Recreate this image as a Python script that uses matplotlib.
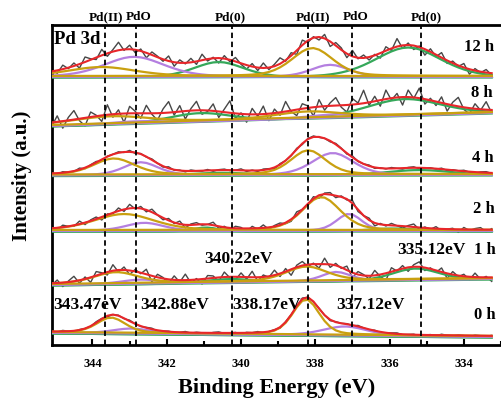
import numpy as np
import matplotlib
matplotlib.use("Agg")
import matplotlib.pyplot as plt

# ---------------------------------------------------------------------
# Fitted peaks: (centre eV, height, half width eV)
# heights and baselines are in the stacked-plot units of the figure
# ---------------------------------------------------------------------
spectraNames = ['12 h', '8 h', '4 h', '2 h', '1 h', '0 h']
baseLeft = [269, 220, 170.5, 115, 61, 13]
baseRight = [269, 233, 171, 115, 67, 9]

goldPeaks = [[(343.75, 9, 1.05), (338.08, 28, 0.65)],
             [(343.5, 7, 1.2), (338.2, 6, 1.0)],
             [(343.42, 16, 0.65), (338.19, 24, 0.55)],
             [(343.15, 16, 0.95), (337.84, 33, 0.6)],
             [(343.37, 11, 0.7), (338.24, 14, 0.65)],
             [(343.5, 15, 0.45), (338.25, 35, 0.42)]]
purplePeaks = [[(342.88, 20, 0.95), (337.6, 12, 0.6)],
               [(342.8, 2, 0.8), (337.5, 3, 0.8)],
               [(342.7, 13, 0.55), (337.53, 22, 0.65)],
               [(342.6, 8, 0.6), (337.09, 17, 0.4)],
               [(342.7, 4, 0.6), (337.44, 9, 0.45)],
               [(342.95, 5, 0.6), (337.2, 9, 0.7)]]
greenPeaks = [[(340.6, 15.5, 0.8), (335.5, 30, 1.05)],
              [(341.1, 9, 1.0), (335.6, 17, 1.2)],
              [(340.5, 3, 1.0), (335.2, 5.5, 1.1)],
              [(340.95, 4, 0.4), (335.9, 3, 0.8)],
              [(340.3, 4, 0.8), (335.3, 12, 0.75)],
              [(340.3, 0, 0.8), (335.3, 0, 0.8)]]

# raw-data scatter about the fit, read by eye (figure units)
res12 = [2,-3,4,-1,3,-4,5,1,-2,6,-3,2,8,-1,4,-3,2,-5,3,1,-2,5,-4,3,-1,4,-3,6,-2,1,
         -5,3,-2,4,-1,-4,3,-3,5,-2,2,6,-1,3,-4,5,-2,1,-3,4,-5,3,2,-4,6,-1,3,-3,1,-5,
         4,-2,8,-3,2,-4,1,-6,3,-2,5,-3,2,-1,4,-5,2,-1,3,-2]
res8 = [-4,6,-7,3,9,-2,-8,5,1,-6,10,-3,4,-9,7,2,-5,8,-1,-7,4,11,-3,6,-8,2,9,-4,-1,7,
        -6,3,12,-5,1,-8,6,-2,8,-7,4,-3,10,-1,-6,5,2,-9,7,-4,3,8,-2,-7,6,1,13,-3,5,-6,
        9,-2,4,-8,7,-1,10,-5,2,-4,6,-7,3,9,-2,-6,5,-1,8,-3]
res4 = [0.5,-1,1,0,-0.5,1.5,-1,0.5,1,-1.5,0.5,0,1,-0.5,1.5,-1,0.5,-0.5,1,0,-1,1.5,
        -0.5,0.5,-1,1,0,-0.5,1,-1,0.5,1,-0.5,0,1.5,-1,0.5,-1,1,0.5,-1.5,1,0,-0.5,1,
        -1,0.5,1,-0.5,0,-1,1,0.5,-1,1.5,-0.5,0,1,-1,0.5,-0.5,1,0,-1,0.5,1,-1,0,0.5,
        -0.5,1,-1,0.5,0,1,-0.5,-1,0.5,1,-0.5]
res2 = [1,-2,2,0,-1,3,-2,1,2,-3,1,-1,3,-2,4,-1,2,-2,3,0,-2,2,-1,3,-3,1,2,-1,0,3,
        -2,1,-2,2,1,-3,2,-1,3,-2,1,2,-1,-2,3,0,-1,2,-3,1,2,-2,1,-1,3,-2,0,2,-3,1,
        -1,2,0,-2,1,3,-2,1,-1,2,-2,0,1,-3,2,-1,1,2,-2,1]
res1 = [-2,3,-4,1,5,-3,2,-5,4,1,-3,6,-2,3,-4,2,-1,5,-6,3,1,-4,4,-2,6,-3,1,-5,3,2,
        -4,5,-1,-3,4,-2,6,-4,2,-1,5,-3,3,-6,2,4,-2,1,-4,6,-3,2,-1,4,-5,3,1,-3,5,-2,
        -7,4,-1,3,-4,2,5,-3,1,-2,4,-5,3,-1,2,-3,4,-2,1,-4]
res0 = [0.5,-0.5,1,0,-1,0.5,0,-0.5,1,0.5,-1,0,0.5,-0.5,1,0,-0.5,0.5,1,-1,0,0.5,
        -0.5,0,1,-0.5,0.5,0,-1,0.5,1,-0.5,0,0.5,-1,0.5,0,1,-0.5,0,0.5,-1,0.5,0,-0.5,
        1,0,-0.5,0.5,0,-1,0.5,0,0.5,-0.5,1,0,-0.5,0.5,-1,0,0.5,1,-0.5,0,0.5,-1,0,0.5,
        -0.5,1,0,-0.5,0.5,0,-1,0.5,0,-0.5,0.5]
residuals = [res12, res8, res4, res2, res1, res0]

markerLines = [343.67, 342.83, 340.25, 338.2, 337.0, 335.15]
topLabels = [('Pd(II)', 343.63), ('PdO', 342.75), ('Pd(0)', 340.28),
             ('Pd(II)', 338.05), ('PdO', 336.91), ('Pd(0)', 335.02)]
eVLabels = [('343.47eV', 345.05, 40), ('342.88eV', 342.71, 40),
            ('338.17eV', 340.23, 40), ('337.12eV', 337.44, 40),
            ('340.22eV', 340.98, 86), ('335.12eV', 335.8, 95)]
timeLabelY = [298, 252, 187, 136, 95, 30]
timeLabelX = [334.0, 333.8, 333.77, 333.75, 333.72, 333.72]

grayColor = '#474747'
redColor = '#e8262a'
goldColor = '#c9a010'
purpleColor = '#b47fe0'
greenColor = '#35a85a'
tealColor = '#4a9cc8'


def peak(e, c, h, w):
    # gauss/lorentz mix, w is the half width at half maximum
    u = ((e - c) / w) ** 2
    return h * (0.7 * np.exp(-np.log(2) * u) + 0.3 / (1 + u))


def main():
    plt.rcParams['font.family'] = ['Liberation Serif', 'DejaVu Serif']
    plt.rcParams['font.weight'] = 'bold'
    fig = plt.figure(figsize=(5.01, 3.99), dpi=100)
    ax = fig.add_axes([0.1038, 0.1353, 0.8962, 0.802])
    ax.set_xlim(345.09, 333.16)
    ax.set_ylim(0, 320)

    for i in range(len(spectraNames)):
        res = np.array(residuals[i], dtype=float)
        e = np.linspace(345.1, 333.25, len(res))
        base = np.linspace(baseLeft[i], baseRight[i], len(res))
        comps = []
        for peaks, col, shift in [(greenPeaks[i], greenColor, -1.5),
                                  (purplePeaks[i], purpleColor, -0.8),
                                  (goldPeaks[i], goldColor, 0.0)]:
            for (c, h, w) in peaks:
                comps.append((peak(e, c, h, w), col, shift))
        envelope = base + sum(p for p, _, _ in comps)
        ax.plot(e, envelope + res, color=grayColor, lw=1.0, zorder=2)
        ax.plot(e, base - 1.0, color=tealColor, lw=1.0, zorder=3)
        for p, col, shift in comps:
            ax.plot(e, base + shift + p, color=col, lw=1.6, zorder=3)
        ax.plot(e, envelope, color=redColor, lw=1.5, zorder=4)
        ax.text(timeLabelX[i], timeLabelY[i], spectraNames[i],
                fontsize=12, fontweight='bold', va='center', ha='left',
                clip_on=False)

    for x in markerLines:
        ax.axvline(x, color='black', ls=(0, (3, 2)), lw=1.3, zorder=5)

    for txt, x in topLabels:
        ax.text(x, 1.024, txt, transform=ax.get_xaxis_transform(),
                ha='center', va='center', fontsize=9.5, fontweight='bold')
    for txt, x, y in eVLabels:
        ax.text(x, y, txt, ha='left', va='center', fontsize=12.5,
                fontweight='bold', zorder=6)
    ax.text(345.04, 306, 'Pd 3d', ha='left', va='center', fontsize=13.5,
            fontweight='bold')

    ax.set_xticks([344, 342, 340, 338, 336, 334])
    ax.set_xticks([343, 341, 339, 337, 335, 333], minor=True)
    ax.tick_params(axis='x', which='both', direction='in', width=1.5,
                   labelsize=9, pad=9)
    ax.tick_params(axis='x', which='major', length=4)
    ax.tick_params(axis='x', which='minor', length=3)
    for lab in ax.get_xticklabels():
        lab.set_fontweight('bold')
    ax.set_yticks([])
    ax.spines['right'].set_visible(False)
    for s in ['left', 'top', 'bottom']:
        ax.spines[s].set_linewidth(2)

    ax.set_xlabel('Binding Energy (eV)', fontsize=16, fontweight='bold',
                  labelpad=6)
    ax.set_ylabel('Intensity (a.u.)', fontsize=15, fontweight='bold')
    ax.yaxis.set_label_coords(-0.045, 0.53)

    fig.savefig('out.png', dpi=100)


if __name__ == "__main__":
    main()
